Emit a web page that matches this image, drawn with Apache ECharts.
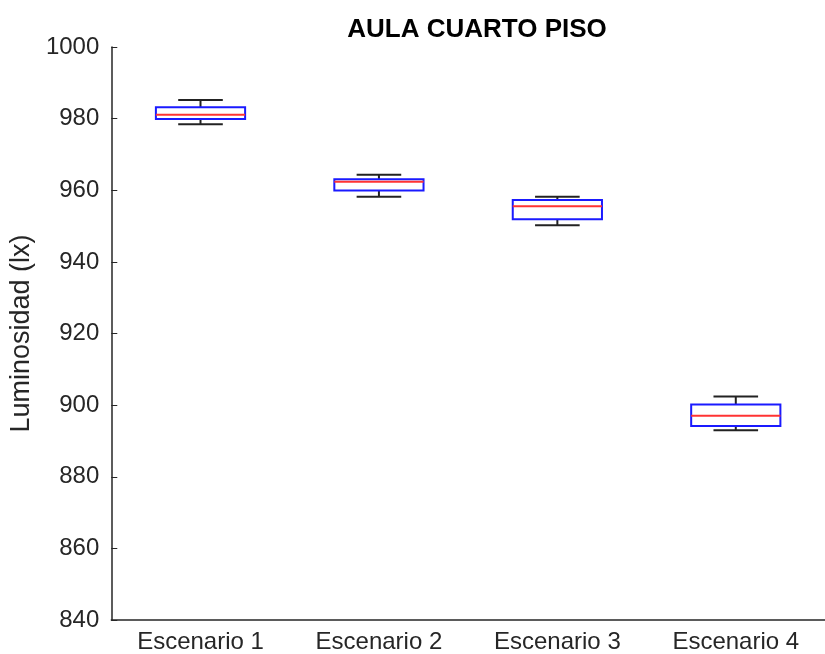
<!DOCTYPE html>
<html>
<head>
<meta charset="utf-8">
<script src="https://cdn.jsdelivr.net/npm/echarts@6/dist/echarts.min.js"></script>
<style>
  html, body { margin: 0; padding: 0; background: #fff; }
  #chart { width: 825px; height: 654px; }
</style>
</head>
<body>
<div id="chart"></div>
<script>
// Scenario labels and box statistics (lux)
const categories = ['Escenario 1', 'Escenario 2', 'Escenario 3', 'Escenario 4'];
const whiskerLow  = [978.4, 958.2, 950.2, 893.0];
const quartile1   = [979.9, 959.9, 951.9, 894.2];
const medians     = [981.1, 962.4, 955.5, 897.0];
const quartile3   = [983.2, 963.1, 957.3, 900.2];
const whiskerHigh = [985.2, 964.3, 958.2, 902.4];
const yTicks = [840, 860, 880, 900, 920, 940, 960, 980, 1000];

const boxData = categories.map((c, i) =>
  [i, whiskerLow[i], quartile1[i], medians[i], quartile3[i], whiskerHigh[i]]);

const axisColor = '#262626';
const font = 'Liberation Sans, Arial, Helvetica, sans-serif';

// Box-and-whisker glyph: open blue box, red median, black whiskers with short caps
function renderBox(params, api) {
  const idx = api.value(0);
  const band = api.size([1, 0])[0];
  const boxW = band * 0.5;
  const capW = band * 0.25;
  const pLow = api.coord([idx, api.value(1)]);
  const pQ1 = api.coord([idx, api.value(2)]);
  const pMed = api.coord([idx, api.value(3)]);
  const pQ3 = api.coord([idx, api.value(4)]);
  const pHigh = api.coord([idx, api.value(5)]);
  const cx = pMed[0];
  const black = { stroke: '#222', lineWidth: 2 };
  return {
    type: 'group',
    children: [
      { type: 'line', shape: { x1: cx, y1: pQ3[1], x2: cx, y2: pHigh[1] }, style: black },
      { type: 'line', shape: { x1: cx, y1: pQ1[1], x2: cx, y2: pLow[1] }, style: black },
      { type: 'line', shape: { x1: cx - capW / 2, y1: pHigh[1], x2: cx + capW / 2, y2: pHigh[1] }, style: black },
      { type: 'line', shape: { x1: cx - capW / 2, y1: pLow[1], x2: cx + capW / 2, y2: pLow[1] }, style: black },
      { type: 'rect', shape: { x: cx - boxW / 2, y: pQ3[1], width: boxW, height: pQ1[1] - pQ3[1] },
        style: { fill: '#fff', stroke: '#1a1aff', lineWidth: 2 } },
      { type: 'line', shape: { x1: cx - boxW / 2, y1: pMed[1], x2: cx + boxW / 2, y2: pMed[1] },
        style: { stroke: '#ff3333', lineWidth: 2 } }
    ]
  };
}

const chart = echarts.init(document.getElementById('chart'), null, { renderer: 'canvas' });
chart.setOption({
  animation: false,
  backgroundColor: '#fff',
  title: {
    text: 'AULA CUARTO PISO',
    left: 472, textAlign: 'center', top: 12,
    textStyle: { fontFamily: font, fontSize: 26, fontWeight: 'bold', color: '#000' }
  },
  grid: { left: 111, right: 0, top: 47, bottom: 34 },
  xAxis: {
    type: 'category',
    data: categories,
    boundaryGap: true,
    axisLine: { lineStyle: { color: axisColor, width: 1.5 } },
    axisTick: { inside: true, length: 5, alignWithLabel: true, lineStyle: { color: axisColor } },
    axisLabel: { fontFamily: font, fontSize: 24, color: axisColor, margin: 10 },
    splitLine: { show: false }
  },
  yAxis: {
    type: 'value',
    min: 840, max: 1000, interval: 20,
    name: 'Luminosidad (lx)',
    nameLocation: 'middle',
    nameGap: 75,
    nameRotate: 90,
    nameTextStyle: { fontFamily: font, fontSize: 27, color: axisColor },
    axisLine: { show: true, lineStyle: { color: axisColor, width: 1.5 } },
    axisTick: { show: true, inside: true, length: 6, lineStyle: { color: axisColor } },
    axisLabel: {
      fontFamily: font, fontSize: 24, color: axisColor, margin: 12,
      formatter: v => (yTicks.indexOf(v) >= 0 ? String(v) : '')
    },
    splitLine: { show: false }
  },
  series: [{
    type: 'custom',
    renderItem: renderBox,
    encode: { x: 0, y: [1, 2, 3, 4, 5] },
    data: boxData
  }]
});
</script>
</body>
</html>
